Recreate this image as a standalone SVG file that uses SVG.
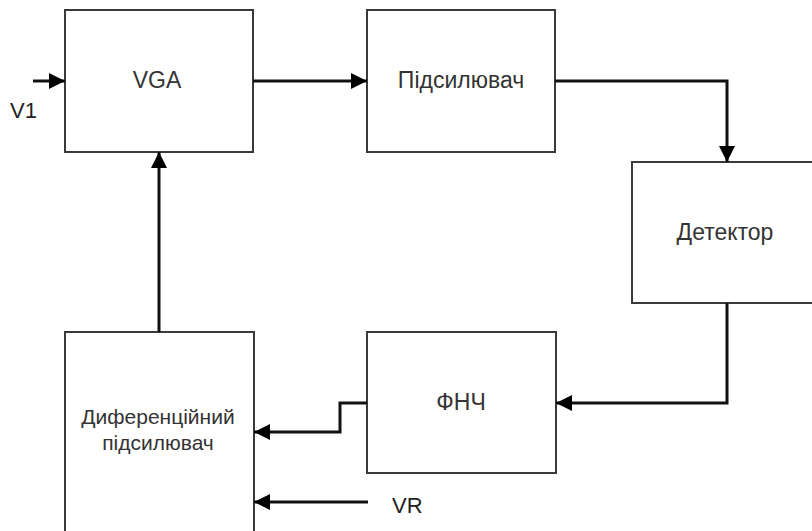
<svg xmlns="http://www.w3.org/2000/svg" width="812" height="531" viewBox="0 0 812 531">
<defs>
<marker id="arr" viewBox="0 0 10 10" refX="10" refY="5" markerWidth="16" markerHeight="16" markerUnits="userSpaceOnUse" orient="auto">
<path d="M0,0 L10,5 L0,10 z" fill="#000"/>
</marker>
</defs>
<style>
.box{fill:#fff;stroke:#3a3a3a;stroke-width:2}
.lbl{font-family:"Liberation Sans",Arial,sans-serif;font-size:23px;fill:#333;text-anchor:middle}
.lbl2{font-family:"Liberation Sans",Arial,sans-serif;font-size:21px;fill:#333;text-anchor:middle}
.io{font-family:"Liberation Sans",Arial,sans-serif;font-size:22px;fill:#222}
.wire{fill:none;stroke:#111;stroke-width:3;marker-end:url(#arr)}
</style>
<rect width="812" height="531" fill="#fff"/>
<g id="vga"><rect class="box" x="65" y="10" width="188" height="142"/><text class="lbl" x="157" y="88">VGA</text></g>
<g id="amp"><rect class="box" x="367" y="10" width="188" height="142"/><text class="lbl" x="461" y="88">Підсилювач</text></g>
<g id="det"><rect class="box" x="632" y="162" width="190" height="141"/><text class="lbl" x="725" y="240">Детектор</text></g>
<g id="lpf"><rect class="box" x="367" y="332" width="189" height="141"/><text class="lbl" x="461" y="410">ФНЧ</text></g>
<g id="diff"><rect class="box" x="65" y="332" width="189" height="210"/><text class="lbl2" x="158" y="424">Диференційний</text><text class="lbl2" x="158" y="450">підсилювач</text></g>
<g id="connectors">
<path class="wire" d="M33,81 H65"/>
<path class="wire" d="M253,81 H367"/>
<path class="wire" d="M555,81 H727 V162"/>
<path class="wire" d="M727,303 V403 H556"/>
<path class="wire" d="M367,403 H340 V432 H254"/>
<path class="wire" d="M368,502 H254"/>
<path class="wire" d="M159,332 V152"/>
</g>
<text class="io" x="10" y="118">V1</text>
<text class="io" x="392" y="513" font-size="24">VR</text>
</svg>
